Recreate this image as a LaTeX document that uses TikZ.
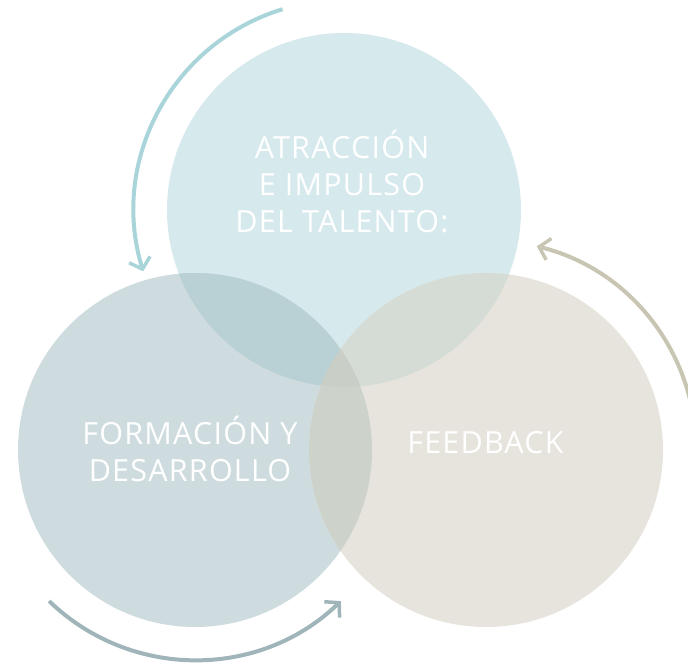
\documentclass[tikz,border=0pt]{standalone}
\usepackage{fontspec}
\setmainfont{Open Sans}[LetterSpace=4]
\usetikzlibrary{arrows.meta}
\definecolor{topc}{HTML}{D6E9ED}
\definecolor{leftc}{HTML}{CFDCDF}
\definecolor{rightc}{HTML}{E6E4DD}
\definecolor{tlc}{HTML}{B9D0D5}
\definecolor{trc}{HTML}{D5DCD5}
\definecolor{lrc}{HTML}{CDD2CA}
\definecolor{tlrc}{HTML}{C9CFC7}
\definecolor{arrA}{HTML}{A9D4D9}
\definecolor{arrB}{HTML}{C9C5B3}
\definecolor{arrC}{HTML}{9FB5BA}
\tikzset{
  bubble/.style={circle, inner sep=0pt, minimum size=354pt},
  label/.style={text=white, font=\fontsize{30.5}{37}\selectfont, align=center, inner sep=0pt},
  cyc/.style={line width=4pt, -{Straight Barb[length=10pt, width=22pt, line width=3.5pt]}}
}
\begin{document}
\begin{tikzpicture}[x=1pt,y=1pt]
\useasboundingbox (0,0) rectangle (688,665);
\coordinate (tc) at (344,455);
\coordinate (lc) at (195,215);
\coordinate (rc) at (486,215);
\node[bubble, fill=topc] (top) at (tc) {};
\node[bubble, fill=leftc] (left) at (lc) {};
\node[bubble, fill=rightc] (right) at (rc) {};
\begin{scope}
  \clip (tc) circle (177);
  \fill[tlc] (lc) circle (177);
  \fill[trc] (rc) circle (177);
\end{scope}
\begin{scope}
  \clip (lc) circle (177);
  \fill[lrc] (rc) circle (177);
  \clip (rc) circle (177);
  \fill[tlrc] (tc) circle (177);
\end{scope}
% labels
\node[label] (t1) at (342,483) {ATRACCIÓN\\E IMPULSO\\DEL TALENTO:};
\node[label] (t2) at (190,216) {FORMACIÓN Y\\DESARROLLO};
\node[label] (t3) at (485.5,222) {FEEDBACK};
% cycle arrows
\draw[cyc, arrA] ([shift={(tc)}]107:210) arc[start angle=107, end angle=197, radius=210];
\draw[cyc, arrB] ([shift={(rc)}]-14:210) arc[start angle=-14, end angle=76, radius=210];
\draw[cyc, arrC] ([shift={(lc)}]226:210) arc[start angle=226, end angle=314, radius=210];
\end{tikzpicture}
\end{document}
